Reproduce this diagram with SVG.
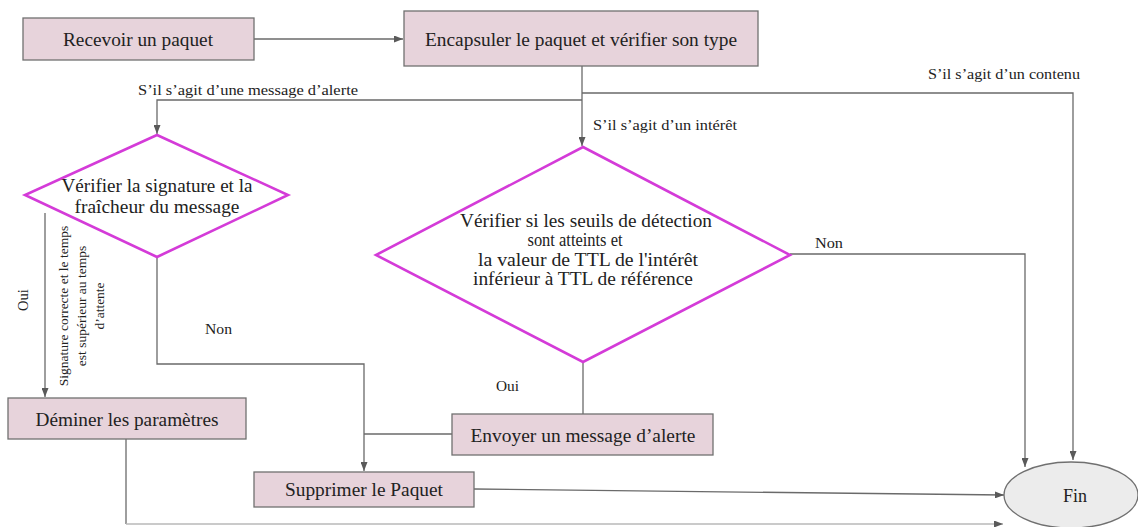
<svg xmlns="http://www.w3.org/2000/svg" width="1138" height="527" viewBox="0 0 1138 527">
  <style>
    text { font-family: "Liberation Serif", serif; fill: #222; }
    .box { fill: #e7d3db; stroke: #707070; stroke-width: 1.3; }
    .dec { fill: #ffffff; stroke: #d43bd8; stroke-width: 2.6; }
    .end { fill: #ececec; stroke: #707070; stroke-width: 1.3; }
    .t-box { font-size: 18px; text-anchor: middle; }
    .t-dec { font-size: 18px; text-anchor: middle; }
    .t-lbl { font-size: 14.5px; }
    .t-rot { font-size: 13.5px; text-anchor: middle; }
    .conn { fill: none; stroke: #6a6a6a; stroke-width: 1.3; }
    .faint { stroke: #b8b8b8; }
  </style>
  <defs>
    <marker id="arrow" markerUnits="userSpaceOnUse" markerWidth="9" markerHeight="7" refX="9" refY="3.5" orient="auto">
      <path d="M0,0 L9,3.5 L0,7 z" fill="#5a5a5a"/>
    </marker>
  </defs>

  <rect width="1138" height="527" fill="#ffffff"/>

  <!-- connectors and their labels -->
  <g id="connectors">
    <path class="conn" d="M254,39 H403" marker-end="url(#arrow)"/>
    <path class="conn" d="M582,66 V146" marker-end="url(#arrow)"/>
    <path class="conn" d="M582,100 H157 V134" marker-end="url(#arrow)"/>
    <path class="conn" d="M582,93 H1073 V460" marker-end="url(#arrow)"/>
    <path class="conn" d="M790,254 H1025 V467" marker-end="url(#arrow)"/>
    <path class="conn" d="M583,362 V414"/>
    <path class="conn" d="M452,434 H364"/>
    <path class="conn" d="M157,257 V364 H364 V471" marker-end="url(#arrow)"/>
    <path class="conn" d="M45,213 V397" marker-end="url(#arrow)"/>
    <path class="conn" d="M474,489 L1004,495" marker-end="url(#arrow)"/>
    <path class="conn" d="M126,439 V524"/>
    <path class="conn faint" d="M126,524 H1003" marker-end="url(#arrow)"/>

    <text class="t-lbl" x="248" y="95" text-anchor="middle" textLength="220" lengthAdjust="spacingAndGlyphs">S’il s’agit d’une message d’alerte</text>
    <text class="t-lbl" x="593" y="130" textLength="144" lengthAdjust="spacingAndGlyphs">S’il s’agit d’un intérêt</text>
    <text class="t-lbl" x="928" y="79" textLength="152" lengthAdjust="spacingAndGlyphs">S’il s’agit d’un contenu</text>
    <text class="t-lbl" x="815" y="248" textLength="28" lengthAdjust="spacingAndGlyphs">Non</text>
    <text class="t-lbl" x="205" y="334" textLength="27" lengthAdjust="spacingAndGlyphs">Non</text>
    <text class="t-lbl" x="496" y="391" textLength="23" lengthAdjust="spacingAndGlyphs">Oui</text>
    <text class="t-lbl" transform="translate(28,300) rotate(-90)" text-anchor="middle">Oui</text>
    <g transform="translate(0,306) rotate(-90)">
      <text class="t-rot" x="0" y="68">Signature correcte et le temps</text>
      <text class="t-rot" x="0" y="86">est supérieur au temps</text>
      <text class="t-rot" x="0" y="104">d’attente</text>
    </g>
  </g>

  <!-- process boxes -->
  <g id="recevoir">
    <rect class="box" x="23" y="18" width="231" height="42"/>
    <text class="t-box" x="138" y="46" textLength="150" lengthAdjust="spacingAndGlyphs">Recevoir un paquet</text>
  </g>
  <g id="encapsuler">
    <rect class="box" x="404" y="11" width="354" height="55"/>
    <text class="t-box" x="581" y="46" textLength="312" lengthAdjust="spacingAndGlyphs">Encapsuler le paquet et vérifier son type</text>
  </g>

  <!-- decisions -->
  <g id="verifier-signature">
    <polygon class="dec" points="157,135 288,195 157,257 25,195"/>
    <text class="t-dec" x="157" y="192" textLength="191" lengthAdjust="spacingAndGlyphs">Vérifier la signature et la</text>
    <text class="t-dec" x="157" y="213" textLength="165" lengthAdjust="spacingAndGlyphs">fraîcheur du message</text>
  </g>

  <g id="verifier-seuils">
    <polygon class="dec" points="583,147 790,255 583,362 376,255"/>
    <text class="t-dec" x="586" y="227" textLength="252" lengthAdjust="spacingAndGlyphs">Vérifier si les seuils de détection</text>
    <text class="t-dec" x="575" y="246" textLength="95" lengthAdjust="spacingAndGlyphs">sont atteints et</text>
    <text class="t-dec" x="588" y="266" textLength="220" lengthAdjust="spacingAndGlyphs">la valeur de TTL de l'intérêt</text>
    <text class="t-dec" x="583" y="285" textLength="220" lengthAdjust="spacingAndGlyphs">inférieur à TTL de référence</text>
  </g>

  <g id="deminer">
    <rect class="box" x="8" y="398" width="238" height="41"/>
    <text class="t-box" x="127" y="426" textLength="183" lengthAdjust="spacingAndGlyphs">Déminer les paramètres</text>
  </g>

  <g id="envoyer">
    <rect class="box" x="452" y="414" width="261" height="41"/>
    <text class="t-box" x="583" y="442" textLength="225" lengthAdjust="spacingAndGlyphs">Envoyer un message d’alerte</text>
  </g>

  <g id="supprimer">
    <rect class="box" x="254" y="472" width="220" height="35"/>
    <text class="t-box" x="364" y="496" textLength="158" lengthAdjust="spacingAndGlyphs">Supprimer le Paquet</text>
  </g>

  <!-- terminal -->
  <g id="fin">
    <ellipse class="end" cx="1071" cy="495" rx="67" ry="33"/>
    <text class="t-box" x="1075" y="502">Fin</text>
  </g>
</svg>
